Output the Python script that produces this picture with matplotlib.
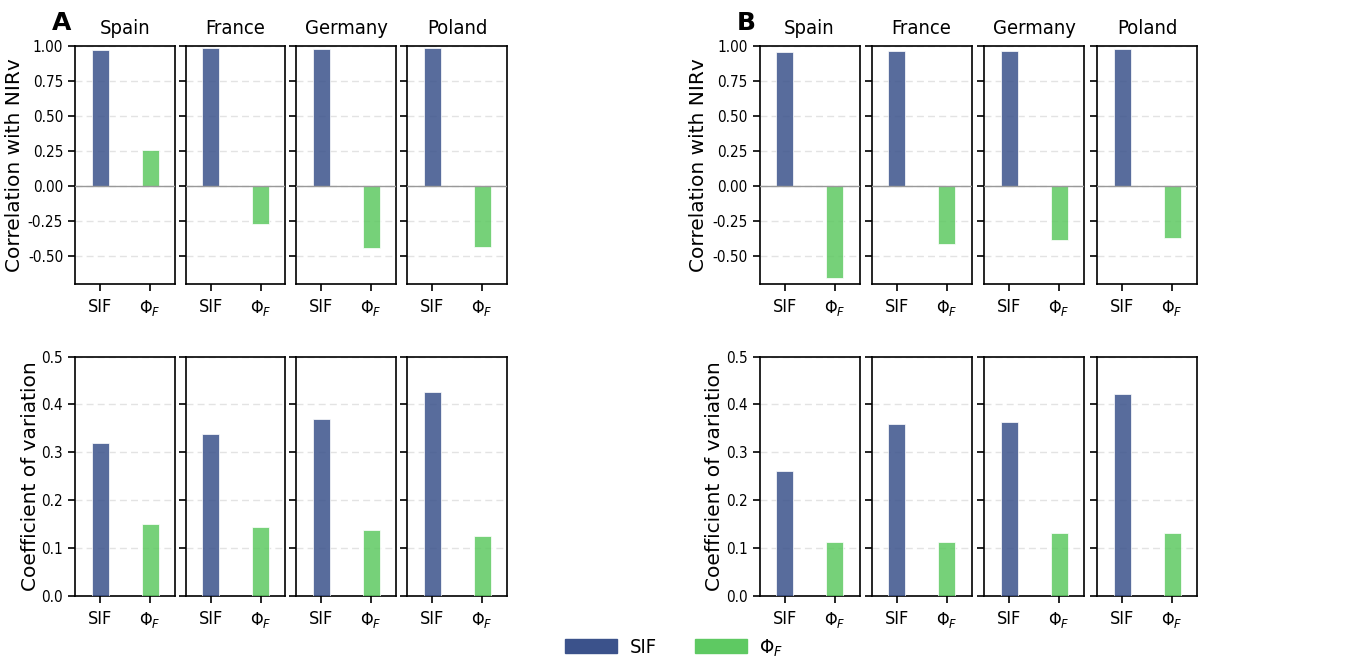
import numpy as np
import matplotlib
matplotlib.use("Agg")
import matplotlib.pyplot as plt
from matplotlib.patches import Patch
from matplotlib.ticker import FormatStrFormatter

# the reference text is narrow, so use the condensed face for horizontal text
plt.rcParams["font.stretch"] = "condensed"

countries = ["Spain", "France", "Germany", "Poland"]
bar_labels = ["SIF", r"$\Phi_F$"]

# panel A
corr_A_sif = [0.975, 0.985, 0.980, 0.985]
corr_A_phi = [0.26, -0.27, -0.44, -0.435]
cv_A_sif = [0.319, 0.338, 0.370, 0.425]
cv_A_phi = [0.151, 0.145, 0.138, 0.125]

# panel B
corr_B_sif = [0.960, 0.965, 0.962, 0.982]
corr_B_phi = [-0.655, -0.415, -0.385, -0.372]
cv_B_sif = [0.262, 0.360, 0.363, 0.421]
cv_B_phi = [0.113, 0.112, 0.132, 0.132]

c_sif = "#3b528b"
c_phi = "#5ec962"

W, H = 1348, 661
fig = plt.figure(figsize=(W / 100, H / 100), dpi=100)

# axes left edges in pixels
lefts = {"A": [75, 185.5, 296, 407], "B": [759.5, 871.5, 984, 1097]}
ax_w = 100
top_row = (46, 284)
bot_row = (356.5, 596)


def px_axes(x0, y0, y1):
    return fig.add_axes([x0 / W, 1 - y1 / H, ax_w / W, (y1 - y0) / H])


def draw_panel(ax, sif, phi, ylim, yticks, fmt, show_labels, zero_line):
    ax.bar([0, 1], [sif, phi], width=0.34, color=[c_sif, c_phi], alpha=0.85,
           edgecolor="white", linewidth=0.6, zorder=3)
    ax.set_xlim(-0.5, 1.5)
    ax.set_ylim(*ylim)
    ax.set_yticks(yticks)
    ax.yaxis.set_major_formatter(FormatStrFormatter(fmt))
    ax.set_xticks([0, 1])
    ax.set_xticklabels(bar_labels)
    ax.yaxis.grid(True, linestyle=(0, (5, 3)), color="#e3e3e3", linewidth=1, zorder=0)
    ax.tick_params(axis="both", length=5, width=1.2)
    ax.tick_params(axis="y", labelsize=11, labelleft=show_labels)
    ax.tick_params(axis="x", labelsize=13, pad=5)
    if zero_line:
        ax.axhline(0, color="#999999", linewidth=1, zorder=4)
    for s in ax.spines.values():
        s.set_linewidth(1.2)


panels = {
    "A": (corr_A_sif, corr_A_phi, cv_A_sif, cv_A_phi),
    "B": (corr_B_sif, corr_B_phi, cv_B_sif, cv_B_phi),
}

for key, (csif, cphi, vsif, vphi) in panels.items():
    for i, country in enumerate(countries):
        x0 = lefts[key][i]
        ax = px_axes(x0, *top_row)
        draw_panel(ax, csif[i], cphi[i], (-0.70, 1.0),
                   [-0.5, -0.25, 0, 0.25, 0.5, 0.75, 1.0], "%.2f", i == 0, True)
        ax.set_title(country, fontsize=14.5, pad=9)
        if i == 0:
            ax.set_ylabel("Correlation with NIRv", fontsize=14.5, fontstretch="normal")
            ax.yaxis.set_label_coords(-0.51, 0.5)
            ax.text(-0.23, 1.095, key, transform=ax.transAxes, fontsize=18,
                    fontweight="bold", fontstretch="normal", va="center", ha="left")

        ax2 = px_axes(x0, *bot_row)
        draw_panel(ax2, vsif[i], vphi[i], (0, 0.5),
                   [0, 0.1, 0.2, 0.3, 0.4, 0.5], "%.1f", i == 0, False)
        if i == 0:
            ax2.set_ylabel("Coefficient of variation", fontsize=14.5, fontstretch="normal")
            ax2.yaxis.set_label_coords(-0.35, 0.5)

handles = [Patch(color=c_sif, label="SIF"), Patch(color=c_phi, label=r"$\Phi_F$")]
fig.legend(handles=handles, loc="center", bbox_to_anchor=(0.5, 1 - 648 / H),
           ncol=2, frameon=False, fontsize=14.5, handlelength=2.6, handleheight=0.7,
           columnspacing=1.9, handletextpad=0.6)

fig.savefig("out.png", dpi=100)
